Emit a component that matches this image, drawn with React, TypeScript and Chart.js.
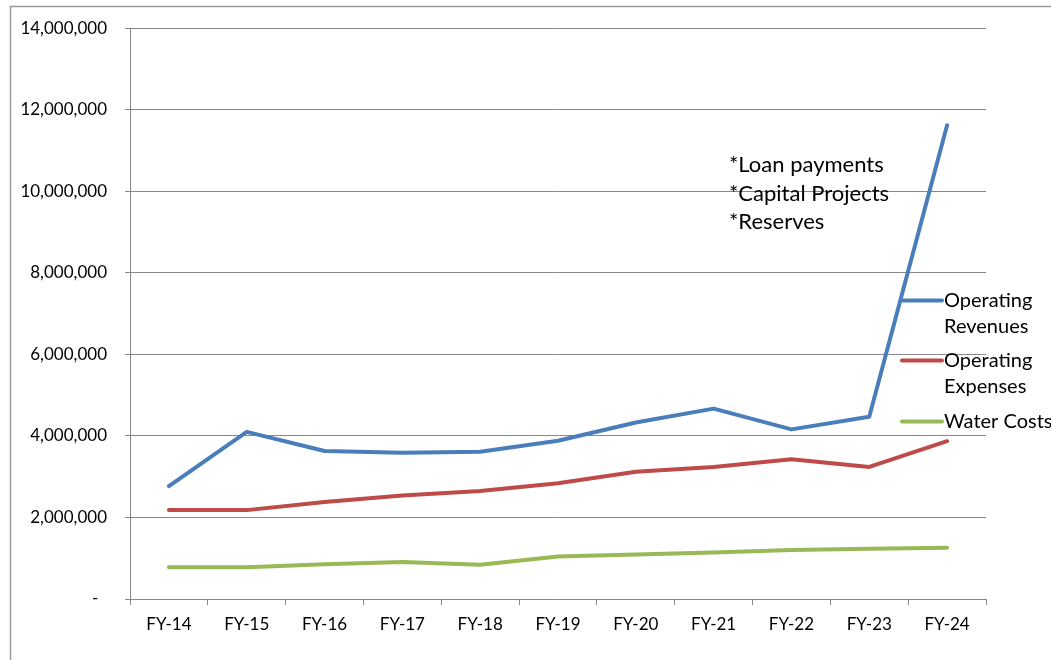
import React, { useEffect, useRef } from "react";
import { Chart, registerables } from "chart.js";

Chart.register(...registerables);

const categories = ["FY-14", "FY-15", "FY-16", "FY-17", "FY-18", "FY-19", "FY-20", "FY-21", "FY-22", "FY-23", "FY-24"];
const operatingRevenues = [2770000, 4100000, 3630000, 3590000, 3610000, 3880000, 4330000, 4670000, 4160000, 4470000, 11620000];
const operatingExpenses = [2180000, 2180000, 2380000, 2540000, 2650000, 2840000, 3120000, 3240000, 3430000, 3240000, 3870000];
const waterCosts = [780000, 780000, 850000, 910000, 840000, 1040000, 1090000, 1140000, 1200000, 1230000, 1260000];
const seriesNames = [["Operating", "Revenues"], ["Operating", "Expenses"], ["Water Costs"]];
const seriesColors = ["#4A7EBB", "#BE4B48", "#98B954"];
const noteLines = ["*Loan payments", "*Capital Projects", "*Reserves"];
const yMax = 14000000;
const yStep = 2000000;

const FONT = "Lato, 'Open Sans', sans-serif";
const GRID = "#888888";

export default function App() {
  const ref = useRef<HTMLCanvasElement | null>(null);

  useEffect(() => {
    const canvas = ref.current;
    if (!canvas) return;

    const framePlugin = {
      id: "frame",
      beforeDraw(chart: any) {
        const ctx = chart.ctx;
        ctx.save();
        ctx.fillStyle = "#ffffff";
        ctx.fillRect(0, 0, chart.width, chart.height);
        ctx.strokeStyle = "#9a9a9a";
        ctx.lineWidth = 1.5;
        ctx.beginPath();
        ctx.moveTo(10.5, chart.height + 5);
        ctx.lineTo(10.5, 6.5);
        ctx.lineTo(chart.width + 5, 6.5);
        ctx.stroke();
        ctx.restore();
      },
    };

    const legendPlugin = {
      id: "customLegend",
      afterDraw(chart: any) {
        const ctx = chart.ctx;
        const area = chart.chartArea;
        ctx.save();
        ctx.fillStyle = "#000000";
        ctx.font = `22px ${FONT}`;
        ctx.textAlign = "left";
        ctx.textBaseline = "alphabetic";
        noteLines.forEach((t, i) => {
          ctx.fillText(t, 729, 172 + i * 28.5);
        });
        const legendY = [300.5, 360.5, 421.5];
        const x0 = area.right - 85;
        chart.data.datasets.forEach((ds: any, i: number) => {
          const y = legendY[i];
          ctx.strokeStyle = ds.borderColor;
          ctx.lineWidth = 4;
          ctx.lineCap = "round";
          ctx.beginPath();
          ctx.moveTo(x0 + 1, y);
          ctx.lineTo(x0 + 41, y);
          ctx.stroke();
          ctx.fillStyle = "#000000";
          ctx.font = `20px ${FONT}`;
          ctx.textBaseline = "middle";
          seriesNames[i].forEach((line, j) => {
            ctx.fillText(line, x0 + 43, y + j * 26);
          });
        });
        ctx.restore();
      },
    };

    const mk = (label: string, data: number[], color: string) => ({
      label,
      data,
      borderColor: color,
      backgroundColor: color,
      borderWidth: 4,
      pointRadius: 0,
      pointHoverRadius: 0,
      tension: 0,
      borderCapStyle: "round" as const,
      borderJoinStyle: "round" as const,
      fill: false,
    });

    const chart = new Chart(canvas, {
      type: "line",
      data: {
        labels: categories,
        datasets: [
          mk(seriesNames[0].join(" "), operatingRevenues, seriesColors[0]),
          mk(seriesNames[1].join(" "), operatingExpenses, seriesColors[1]),
          mk(seriesNames[2].join(" "), waterCosts, seriesColors[2]),
        ],
      },
      options: {
        responsive: false,
        animation: false,
        devicePixelRatio: 1,
        layout: { padding: { left: 0, top: 28, right: 65, bottom: 0 } },
        plugins: {
          legend: { display: false },
          tooltip: { enabled: false },
        },
        scales: {
          x: {
            offset: true,
            afterFit: (scale: any) => {
              scale.height = 61;
            },
            border: { display: true, color: GRID, width: 1 },
            grid: {
              offset: true,
              drawOnChartArea: false,
              drawTicks: true,
              tickLength: 6,
              color: GRID,
            },
            ticks: {
              color: "#000000",
              padding: 9,
              font: { family: FONT, size: 17 },
              maxRotation: 0,
              autoSkip: false,
            },
          },
          y: {
            min: 0,
            max: yMax,
            afterFit: (scale: any) => {
              scale.width = 130;
            },
            border: { display: true, color: GRID, width: 1 },
            grid: {
              color: GRID,
              drawTicks: true,
              tickLength: 5,
            },
            ticks: {
              stepSize: yStep,
              color: "#000000",
              padding: 18,
              font: { family: FONT, size: 17 },
              callback: (v: any) => (Number(v) === 0 ? "-  " : Number(v).toLocaleString("en-US")),
            },
          },
        },
      },
      plugins: [framePlugin, legendPlugin],
    });

    return () => chart.destroy();
  }, []);

  return (
    <div style={{ position: "fixed", left: 0, top: 0, width: 1051, height: 660, background: "#fff" }}>
      <canvas ref={ref} width={1051} height={660} style={{ display: "block", width: 1051, height: 660 }} />
    </div>
  );
}
